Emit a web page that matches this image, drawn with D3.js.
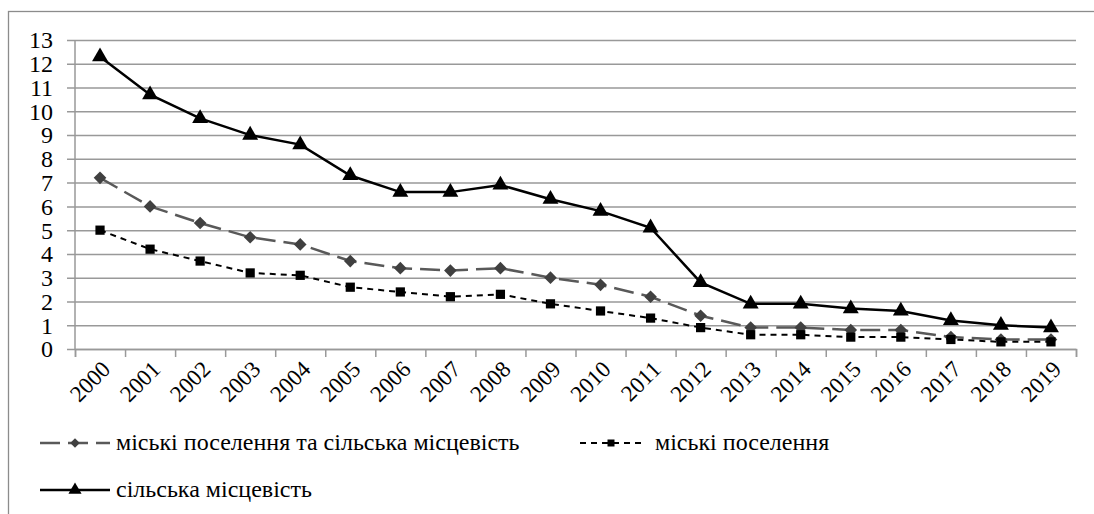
<!DOCTYPE html>
<html>
<head>
<meta charset="utf-8">
<script src="https://cdn.jsdelivr.net/npm/d3@7"></script>
<style>
  svg text { font-family: 'Liberation Serif', serif !important; }
</style>
</head>
<body style="margin:0">
<svg id="chart" width="1094" height="514" font-family="Liberation Serif, serif"></svg>
<script>
const years = ["2000", "2001", "2002", "2003", "2004", "2005", "2006", "2007", "2008", "2009",
               "2010", "2011", "2012", "2013", "2014", "2015", "2016", "2017", "2018", "2019"];

const totalValues = [7.2, 6.0, 5.3, 4.7, 4.4, 3.7, 3.4, 3.3, 3.4, 3.0,
                     2.7, 2.2, 1.4, 0.9, 0.9, 0.8, 0.8, 0.5, 0.4, 0.4];   // міські поселення та сільська місцевість
const urbanValues = [5.0, 4.2, 3.7, 3.2, 3.1, 2.6, 2.4, 2.2, 2.3, 1.9,
                     1.6, 1.3, 0.9, 0.6, 0.6, 0.5, 0.5, 0.4, 0.3, 0.3];   // міські поселення
const ruralValues = [12.3, 10.7, 9.7, 9.0, 8.6, 7.3, 6.6, 6.6, 6.9, 6.3,
                     5.8, 5.1, 2.8, 1.9, 1.9, 1.7, 1.6, 1.2, 1.0, 0.9];   // сільська місцевість

const seriesNames = ["міські поселення та сільська місцевість", "міські поселення", "сільська місцевість"];
const yTicks = [0, 1, 2, 3, 4, 5, 6, 7, 8, 9, 10, 11, 12, 13];

const svg = d3.select('#chart');

// outer frame
svg.append('rect')
    .attr('x', 8.5).attr('y', 11.5)
    .attr('width', 1100).attr('height', 520)
    .attr('fill', 'none').attr('stroke', '#8c8c8c').attr('stroke-width', 1.3);

const plotL = 75, plotR = 1076, plotT = 40, plotB = 349;

const x = d3.scaleBand().domain(years).range([plotL, plotR]).padding(0);
const xEdges = d3.scaleLinear().domain([0, years.length]).range([plotL, plotR]);
const y = d3.scaleLinear().domain([0, 13]).range([plotB, plotT]);

// horizontal gridlines, reaching a little left of the axis
const grid = svg.append('g')
    .attr('transform', `translate(${plotR},0)`)
    .call(d3.axisLeft(y).tickValues(yTicks).tickSize(plotR - 67).tickFormat(''));
grid.select('.domain').remove();
grid.selectAll('line').attr('stroke', '#999').attr('stroke-width', 1.5);

// y labels
const yAxis = svg.append('g')
    .attr('transform', 'translate(67,0)')
    .call(d3.axisLeft(y).tickValues(yTicks).tickSize(0).tickPadding(14));
yAxis.select('.domain').remove();
yAxis.selectAll('text').attr('dy', '0.33em').attr('font-size', 24);

svg.append('line')
    .attr('x1', plotL).attr('x2', plotL).attr('y1', plotT).attr('y2', plotB)
    .attr('stroke', '#999').attr('stroke-width', 1.5);

// x axis, ticks on category edges
const xAxis = svg.append('g')
    .attr('transform', `translate(0,${plotB})`)
    .call(d3.axisBottom(xEdges).ticks(years.length).tickSize(8).tickFormat(''));
xAxis.selectAll('line, path').attr('stroke', '#999').attr('stroke-width', 1.5);

const xLabels = svg.append('g')
    .attr('transform', `translate(0,${plotB})`)
    .call(d3.axisBottom(x).tickSize(0).tickFormat(d => d));
xLabels.select('.domain').remove();
xLabels.selectAll('text')
    .attr('font-size', 23)
    .attr('text-anchor', 'end')
    .attr('x', 0).attr('y', 0).attr('dy', '0.35em')
    .attr('transform', 'translate(6,16) rotate(-45)');

const line = d3.line()
    .x((d, i) => x(years[i]) + x.bandwidth() / 2)
    .y(d => y(d));

const series = [
    { name: seriesNames[0], values: totalValues, color: '#595959', width: 2.5, dash: '20,8',
      symbol: d3.symbolSquare, size: 80, rotate: 45, fill: '#404040', legSize: 45 },
    { name: seriesNames[1], values: urbanValues, color: '#000', width: 2, dash: '6,5',
      symbol: d3.symbolSquare, size: 85, rotate: 0, fill: '#000', legSize: 49 },
    { name: seriesNames[2], values: ruralValues, color: '#000', width: 2.5, dash: null,
      symbol: d3.symbolTriangle, size: 110, rotate: 0, fill: '#000', legSize: 75 }
];

series.forEach(s => {
    const g = svg.append('g');
    g.append('path')
        .datum(s.values)
        .attr('d', line)
        .attr('fill', 'none')
        .attr('stroke', s.color)
        .attr('stroke-width', s.width)
        .attr('stroke-dasharray', s.dash);
    g.selectAll('path.mark')
        .data(s.values)
        .enter()
        .append('path')
        .attr('class', 'mark')
        .attr('d', d3.symbol().type(s.symbol).size(s.size))
        .attr('fill', s.fill)
        .attr('transform', (d, i) =>
            `translate(${x(years[i]) + x.bandwidth() / 2},${y(d)}) rotate(${s.rotate})`);
});

// legend
const legendPos = [
    { x: 40, y: 443, w: 70, gap: 6 },
    { x: 580, y: 443, w: 62, gap: 13 },
    { x: 40, y: 490, w: 70, gap: 6 }
];

series.forEach((s, i) => {
    const p = legendPos[i];
    const g = svg.append('g').attr('transform', `translate(${p.x},${p.y})`);
    g.append('line')
        .attr('x1', 0).attr('x2', p.w).attr('y1', 0).attr('y2', 0)
        .attr('stroke', s.color)
        .attr('stroke-width', s.width)
        .attr('stroke-dasharray', s.dash);
    g.append('path')
        .attr('d', d3.symbol().type(s.symbol).size(s.legSize))
        .attr('fill', s.fill)
        .attr('transform', `translate(${p.w / 2},0) rotate(${s.rotate})`);
    g.append('text')
        .attr('x', p.w + p.gap)
        .attr('y', 0)
        .attr('dy', '0.3em')
        .attr('font-size', 24)
        .text(s.name);
});

// every text in Times-like serif, black
svg.selectAll('g').attr('font-family', null);
svg.selectAll('text')
    .attr('font-family', 'Liberation Serif, serif')
    .style('font-family', 'Liberation Serif, serif')
    .attr('fill', '#000');
</script>
</body>
</html>
